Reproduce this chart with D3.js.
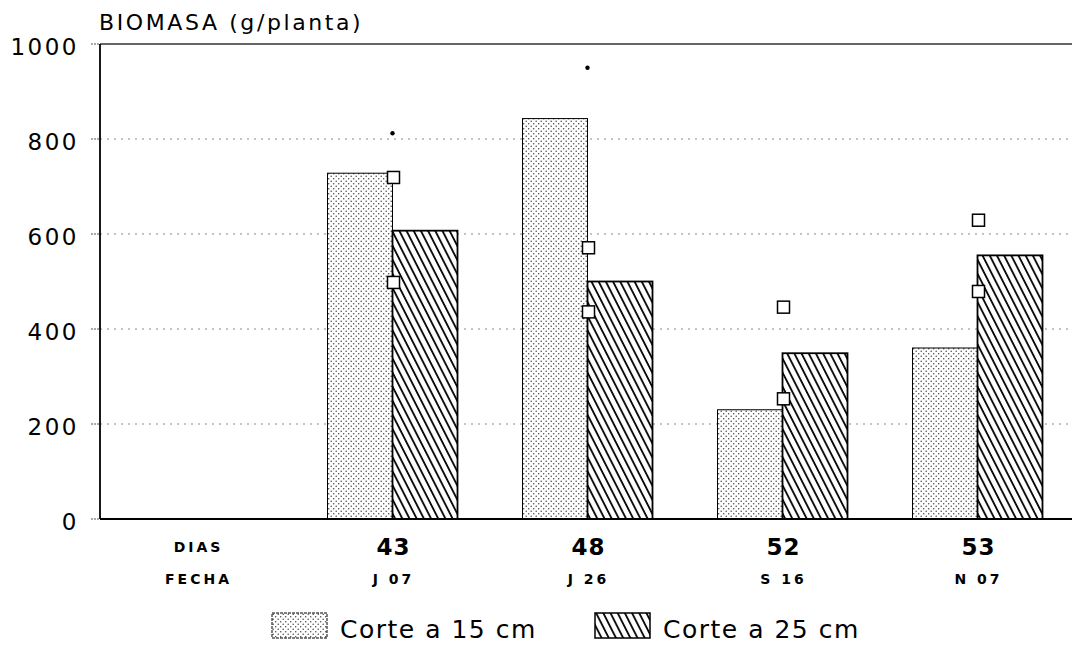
<!DOCTYPE html>
<html>
<head>
<meta charset="utf-8">
<script src="https://cdn.jsdelivr.net/npm/d3@7"></script>
<style>
  body { margin: 0; background: #fff; }
  svg { display: block; font-family: "DejaVu Sans", sans-serif; }
</style>
</head>
<body>
<svg width="1072" height="648"></svg>
<script>
// datos
const dias = ["DIAS", "43", "48", "52", "53"];
const fechas = ["FECHA", "J 07", "J 26", "S 16", "N 07"];
const corte15 = [null, 728, 843, 230, 360];
const corte25 = [null, 607, 500, 349, 555];
const marcaAlta = [null, 719, 571, 446, 629];
const marcaBaja = [null, 498, 436, 253, 479];
const puntos = [null, 812, 950, null, null];
const yTicks = [0, 200, 400, 600, 800, 1000];
const series = ["Corte a 15 cm", "Corte a 25 cm"];

const svg = d3.select("svg");
const mLeft = 100, mRight = 1075, mTop = 44, mBottom = 519;

const x0 = d3.scaleBand().domain(dias).range([mLeft, mRight]).padding(0);
const x1 = d3.scaleBand().domain(series).range([0, x0.bandwidth()]).paddingOuter(0.5).paddingInner(0);
const y = d3.scaleLinear().domain([0, 1000]).range([mBottom, mTop]);

const defs = svg.append("defs");

// punteado
const dots = defs.append("pattern")
    .attr("id", "dots")
    .attr("patternUnits", "userSpaceOnUse")
    .attr("width", 5).attr("height", 5);
dots.append("rect").attr("width", 5).attr("height", 5).attr("fill", "#fff");
dots.append("circle").attr("cx", 1.2).attr("cy", 1.2).attr("r", 0.75).attr("fill", "#444");
dots.append("circle").attr("cx", 3.7).attr("cy", 3.7).attr("r", 0.75).attr("fill", "#444");

// rayado
const hatch = defs.append("pattern")
    .attr("id", "hatch")
    .attr("patternUnits", "userSpaceOnUse")
    .attr("width", 6.4).attr("height", 10)
    .attr("patternTransform", "rotate(-27)");
hatch.append("rect").attr("width", 6.4).attr("height", 10).attr("fill", "#fff");
hatch.append("line").attr("x1", 1).attr("x2", 1).attr("y1", 0).attr("y2", 10)
    .attr("stroke", "#000").attr("stroke-width", 1.8);

const fills = { "Corte a 15 cm": "url(#dots)", "Corte a 25 cm": "url(#hatch)" };

// rejilla
svg.append("g").selectAll("line")
    .data(yTicks.filter(d => d > 0 && d < 1000))
    .enter().append("line")
    .attr("x1", mLeft).attr("x2", 1072)
    .attr("y1", d => y(d)).attr("y2", d => y(d))
    .attr("stroke", "#888").attr("stroke-width", 1)
    .attr("stroke-dasharray", "2,5");

svg.append("line")
    .attr("x1", mLeft).attr("x2", 1072)
    .attr("y1", y(1000)).attr("y2", y(1000))
    .attr("stroke", "#333").attr("stroke-width", 1.5);

// barras
const rows = dias.map((d, i) => ({ dia: d, vals: [corte15[i], corte25[i]] }));

const groups = svg.append("g").selectAll("g")
    .data(rows)
    .enter().append("g")
    .attr("transform", d => "translate(" + x0(d.dia) + ",0)");

groups.selectAll("rect")
    .data(d => d.vals.map((v, j) => ({ key: series[j], v: v })).filter(e => e.v !== null))
    .enter().append("rect")
    .attr("x", d => x1(d.key))
    .attr("width", x1.bandwidth())
    .attr("y", d => y(d.v))
    .attr("height", d => y(0) - y(d.v))
    .attr("fill", d => fills[d.key])
    .attr("stroke", "#000")
    .attr("stroke-width", d => d.key === series[0] ? 1 : 1.8);

// cuadrados
const cuadros = [];
dias.forEach((d, i) => {
    if (marcaAlta[i] !== null) cuadros.push({ dia: d, v: marcaAlta[i] });
    if (marcaBaja[i] !== null) cuadros.push({ dia: d, v: marcaBaja[i] });
});
const s = 12;
svg.append("g").selectAll("rect")
    .data(cuadros)
    .enter().append("rect")
    .attr("x", d => x0(d.dia) + x0.bandwidth() / 2 - s / 2 + 1)
    .attr("y", d => y(d.v) - s / 2)
    .attr("width", s).attr("height", s)
    .attr("fill", "#fff").attr("stroke", "#000").attr("stroke-width", 1.5);

svg.append("g").selectAll("circle")
    .data(dias.map((d, i) => ({ dia: d, v: puntos[i] })).filter(d => d.v !== null))
    .enter().append("circle")
    .attr("cx", d => x0(d.dia) + x0.bandwidth() / 2)
    .attr("cy", d => y(d.v))
    .attr("r", 2.2)
    .attr("fill", "#000");

// ejes
svg.append("line")
    .attr("x1", mLeft).attr("x2", 1072)
    .attr("y1", y(0)).attr("y2", y(0))
    .attr("stroke", "#000").attr("stroke-width", 1.8);

svg.append("line")
    .attr("x1", mLeft).attr("x2", mLeft)
    .attr("y1", y(1000)).attr("y2", y(0))
    .attr("stroke", "#000").attr("stroke-width", 1.8);

const yAxis = svg.append("g");
yAxis.selectAll("line")
    .data(yTicks)
    .enter().append("line")
    .attr("x1", mLeft - 9).attr("x2", mLeft)
    .attr("y1", d => y(d)).attr("y2", d => y(d))
    .attr("stroke", "#555").attr("stroke-width", 1)
    .attr("stroke-dasharray", "2,1");
yAxis.selectAll("text")
    .data(yTicks)
    .enter().append("text")
    .attr("x", 79)
    .attr("y", d => y(d) + 11)
    .attr("text-anchor", "end")
    .attr("font-size", 23)
    .attr("letter-spacing", 2.5)
    .attr("fill", "#000")
    .text(d => d);

svg.append("text")
    .attr("x", 99).attr("y", 30)
    .attr("font-size", 22)
    .attr("letter-spacing", 2.6)
    .attr("fill", "#000")
    .text("BIOMASA (g/planta)");

// etiquetas x
const xl = svg.append("g");
xl.selectAll("text.dias")
    .data(dias)
    .enter().append("text")
    .attr("class", "dias")
    .attr("x", d => x0(d) + x0.bandwidth() / 2 + 1)
    .attr("y", (d, i) => i === 0 ? 552 : 555)
    .attr("text-anchor", "middle")
    .attr("font-size", (d, i) => i === 0 ? 14 : 23)
    .attr("font-weight", "bold")
    .attr("letter-spacing", (d, i) => i === 0 ? 3 : 1)
    .attr("fill", "#000")
    .text(d => d);

xl.selectAll("text.fecha")
    .data(fechas)
    .enter().append("text")
    .attr("class", "fecha")
    .attr("x", (d, i) => x0(dias[i]) + x0.bandwidth() / 2 + 1)
    .attr("y", 584)
    .attr("text-anchor", "middle")
    .attr("font-size", 14)
    .attr("font-weight", "bold")
    .attr("letter-spacing", 3)
    .attr("fill", "#000")
    .text(d => d);

// leyenda
const legendX = [272, 595];
const leg = svg.append("g").selectAll("g")
    .data(series)
    .enter().append("g")
    .attr("transform", (d, i) => "translate(" + legendX[i] + ",613)");
leg.append("rect")
    .attr("width", 55).attr("height", 25)
    .attr("fill", d => fills[d])
    .attr("stroke", "#000")
    .attr("stroke-width", (d, i) => i === 0 ? 1 : 1.5)
    .attr("stroke-dasharray", (d, i) => i === 0 ? "3,1" : null);
leg.append("text")
    .attr("x", 68).attr("y", 25)
    .attr("font-size", 25)
    .attr("letter-spacing", 1.5)
    .attr("fill", "#000")
    .text(d => d);
</script>
</body>
</html>
